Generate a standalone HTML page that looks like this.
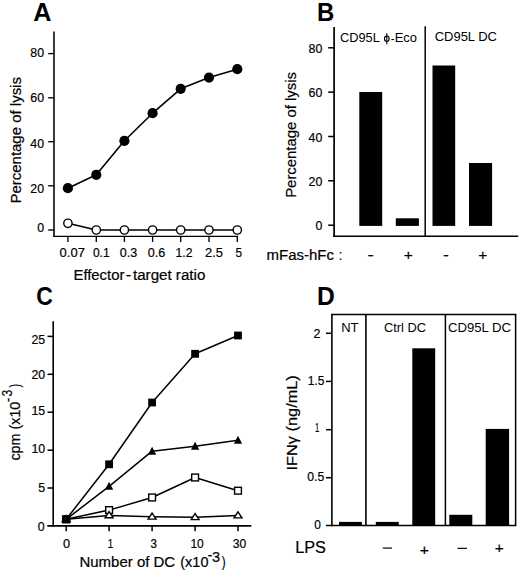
<!DOCTYPE html>
<html><head><meta charset="utf-8"><style>
html,body{margin:0;padding:0;background:#fff;}
svg{display:block;}
text{font-family:"Liberation Sans", sans-serif;fill:#000;}
</style></head><body>
<svg width="520" height="572" viewBox="0 0 520 572">
<rect width="520" height="572" fill="#fff"/>
<text x="33.37" y="21.15" font-size="25.0" textLength="18.19" lengthAdjust="spacingAndGlyphs" font-weight="bold">A</text>
<line x1="54.00" y1="31.40" x2="54.00" y2="237.05" stroke="#000" stroke-width="1.55"/>
<line x1="53.25" y1="236.35" x2="238.20" y2="236.35" stroke="#000" stroke-width="1.4"/>
<line x1="48.20" y1="53.60" x2="54.00" y2="53.60" stroke="#000" stroke-width="1.35"/>
<text x="30.35" y="56.93" font-size="12.6" textLength="13.73" lengthAdjust="spacingAndGlyphs" stroke="#000" stroke-width="0.2">80</text>
<line x1="48.20" y1="97.80" x2="54.00" y2="97.80" stroke="#000" stroke-width="1.35"/>
<text x="30.35" y="101.93" font-size="12.6" textLength="13.73" lengthAdjust="spacingAndGlyphs" stroke="#000" stroke-width="0.2">60</text>
<line x1="48.20" y1="141.70" x2="54.00" y2="141.70" stroke="#000" stroke-width="1.35"/>
<text x="30.35" y="147.53" font-size="12.6" textLength="13.73" lengthAdjust="spacingAndGlyphs" stroke="#000" stroke-width="0.2">40</text>
<line x1="48.20" y1="185.80" x2="54.00" y2="185.80" stroke="#000" stroke-width="1.35"/>
<text x="30.35" y="192.53" font-size="12.6" textLength="13.73" lengthAdjust="spacingAndGlyphs" stroke="#000" stroke-width="0.2">20</text>
<line x1="48.20" y1="230.00" x2="54.00" y2="230.00" stroke="#000" stroke-width="1.35"/>
<text x="37.21" y="232.23" font-size="12.6" textLength="6.87" lengthAdjust="spacingAndGlyphs" stroke="#000" stroke-width="0.2">0</text>
<line x1="67.90" y1="236.35" x2="67.90" y2="241.90" stroke="#000" stroke-width="1.35"/>
<line x1="96.30" y1="236.35" x2="96.30" y2="241.90" stroke="#000" stroke-width="1.35"/>
<line x1="124.40" y1="236.35" x2="124.40" y2="241.90" stroke="#000" stroke-width="1.35"/>
<line x1="152.60" y1="236.35" x2="152.60" y2="241.90" stroke="#000" stroke-width="1.35"/>
<line x1="180.70" y1="236.35" x2="180.70" y2="241.90" stroke="#000" stroke-width="1.35"/>
<line x1="209.00" y1="236.35" x2="209.00" y2="241.90" stroke="#000" stroke-width="1.35"/>
<line x1="237.30" y1="236.35" x2="237.30" y2="241.90" stroke="#000" stroke-width="1.35"/>
<text x="59.64" y="256.83" font-size="12.6" textLength="25.21" lengthAdjust="spacingAndGlyphs" stroke="#000" stroke-width="0.2">0.07</text>
<text x="92.93" y="256.83" font-size="12.6" textLength="16.76" lengthAdjust="spacingAndGlyphs" stroke="#000" stroke-width="0.2">0.1</text>
<text x="119.71" y="256.83" font-size="12.6" textLength="17.44" lengthAdjust="spacingAndGlyphs" stroke="#000" stroke-width="0.2">0.3</text>
<text x="147.71" y="256.83" font-size="12.6" textLength="17.44" lengthAdjust="spacingAndGlyphs" stroke="#000" stroke-width="0.2">0.6</text>
<text x="175.58" y="256.95" font-size="12.6" textLength="16.83" lengthAdjust="spacingAndGlyphs" stroke="#000" stroke-width="0.2">1.2</text>
<text x="205.05" y="256.83" font-size="12.6" textLength="17.89" lengthAdjust="spacingAndGlyphs" stroke="#000" stroke-width="0.2">2.5</text>
<text x="235.53" y="256.83" font-size="12.6" textLength="6.57" lengthAdjust="spacingAndGlyphs" stroke="#000" stroke-width="0.2">5</text>
<text x="73.49" y="279.70" font-size="14.0" textLength="50.86" lengthAdjust="spacingAndGlyphs" stroke="#000" stroke-width="0.2">Effector</text>
<text x="125.65" y="279.82" font-size="14.0" textLength="5.59" lengthAdjust="spacingAndGlyphs" stroke="#000" stroke-width="0.2">-</text>
<text x="132.97" y="279.70" font-size="14.0" textLength="72.36" lengthAdjust="spacingAndGlyphs" stroke="#000" stroke-width="0.2">target ratio</text>
<text x="20.60" y="203.53" font-size="14.6" textLength="126.47" lengthAdjust="spacingAndGlyphs" transform="rotate(-90 20.60 203.53)" stroke="#000" stroke-width="0.2">Percentage of lysis</text>
<polyline points="67.90,188.20 96.30,174.80 124.40,140.80 152.60,113.20 180.70,88.80 209.00,77.60 237.30,69.20" fill="none" stroke="#000" stroke-width="1.6" stroke-linejoin="round"/>
<polyline points="67.90,223.30 96.30,230.00 124.40,230.00 152.60,230.00 180.70,230.00 209.00,230.00 237.30,230.00" fill="none" stroke="#000" stroke-width="1.6" stroke-linejoin="round"/>
<circle cx="67.90" cy="188.20" r="5.1" fill="#000"/>
<circle cx="96.30" cy="174.80" r="5.1" fill="#000"/>
<circle cx="124.40" cy="140.80" r="5.1" fill="#000"/>
<circle cx="152.60" cy="113.20" r="5.1" fill="#000"/>
<circle cx="180.70" cy="88.80" r="5.1" fill="#000"/>
<circle cx="209.00" cy="77.60" r="5.1" fill="#000"/>
<circle cx="237.30" cy="69.20" r="5.1" fill="#000"/>
<circle cx="67.90" cy="223.30" r="4.15" fill="#fff" stroke="#000" stroke-width="1.4"/>
<circle cx="96.30" cy="230.00" r="4.15" fill="#fff" stroke="#000" stroke-width="1.4"/>
<circle cx="124.40" cy="230.00" r="4.15" fill="#fff" stroke="#000" stroke-width="1.4"/>
<circle cx="152.60" cy="230.00" r="4.15" fill="#fff" stroke="#000" stroke-width="1.4"/>
<circle cx="180.70" cy="230.00" r="4.15" fill="#fff" stroke="#000" stroke-width="1.4"/>
<circle cx="209.00" cy="230.00" r="4.15" fill="#fff" stroke="#000" stroke-width="1.4"/>
<circle cx="237.30" cy="230.00" r="4.15" fill="#fff" stroke="#000" stroke-width="1.4"/>
<text x="317.00" y="21.15" font-size="25.0" textLength="17.29" lengthAdjust="spacingAndGlyphs" font-weight="bold">B</text>
<line x1="334.10" y1="27.00" x2="334.10" y2="237.10" stroke="#000" stroke-width="1.7"/>
<line x1="333.30" y1="236.30" x2="518.20" y2="236.30" stroke="#000" stroke-width="1.6"/>
<line x1="328.20" y1="47.80" x2="334.10" y2="47.80" stroke="#000" stroke-width="1.5"/>
<text x="308.55" y="52.83" font-size="12.6" textLength="13.73" lengthAdjust="spacingAndGlyphs" stroke="#000" stroke-width="0.2">80</text>
<line x1="328.20" y1="92.15" x2="334.10" y2="92.15" stroke="#000" stroke-width="1.5"/>
<text x="308.55" y="97.23" font-size="12.6" textLength="13.73" lengthAdjust="spacingAndGlyphs" stroke="#000" stroke-width="0.2">60</text>
<line x1="328.20" y1="136.50" x2="334.10" y2="136.50" stroke="#000" stroke-width="1.5"/>
<text x="308.55" y="141.53" font-size="12.6" textLength="13.73" lengthAdjust="spacingAndGlyphs" stroke="#000" stroke-width="0.2">40</text>
<line x1="328.20" y1="180.80" x2="334.10" y2="180.80" stroke="#000" stroke-width="1.5"/>
<text x="308.55" y="186.03" font-size="12.6" textLength="13.73" lengthAdjust="spacingAndGlyphs" stroke="#000" stroke-width="0.2">20</text>
<line x1="328.20" y1="225.20" x2="334.10" y2="225.20" stroke="#000" stroke-width="1.5"/>
<text x="315.41" y="230.03" font-size="12.6" textLength="6.87" lengthAdjust="spacingAndGlyphs" stroke="#000" stroke-width="0.2">0</text>
<line x1="425.20" y1="26.30" x2="425.20" y2="236.30" stroke="#000" stroke-width="1.5"/>
<rect x="359.30" y="92.00" width="22.90" height="133.90" fill="#000"/>
<rect x="395.80" y="218.30" width="23.10" height="7.60" fill="#000"/>
<rect x="432.50" y="65.50" width="22.70" height="160.40" fill="#000"/>
<rect x="469.00" y="163.00" width="23.10" height="62.90" fill="#000"/>
<text x="339.95" y="41.72" font-size="13.3" textLength="39.88" lengthAdjust="spacingAndGlyphs">CD95L</text>
<ellipse cx="386.8" cy="38.8" rx="2.35" ry="2.65" fill="none" stroke="#000" stroke-width="1.1"/>
<line x1="386.80" y1="33.20" x2="386.80" y2="44.20" stroke="#000" stroke-width="1.1"/>
<text x="390.69" y="42.66" font-size="13.3" textLength="3.82" lengthAdjust="spacingAndGlyphs">-</text>
<text x="394.64" y="41.82" font-size="13.3" textLength="22.31" lengthAdjust="spacingAndGlyphs">Eco</text>
<text x="434.65" y="41.12" font-size="13.3" textLength="62.35" lengthAdjust="spacingAndGlyphs">CD95L DC</text>
<text x="296.40" y="197.82" font-size="14.6" textLength="125.86" lengthAdjust="spacingAndGlyphs" transform="rotate(-90 296.40 197.82)" stroke="#000" stroke-width="0.2">Percentage of lysis</text>
<text x="266.61" y="260.11" font-size="14.0" textLength="67.29" lengthAdjust="spacingAndGlyphs" stroke="#000" stroke-width="0.2">mFas-hFc</text>
<text x="338.75" y="260.25" font-size="14.0" textLength="3.50" lengthAdjust="spacingAndGlyphs" stroke="#000" stroke-width="0.2">:</text>
<text x="367.46" y="260.02" font-size="14.0" textLength="6.27" lengthAdjust="spacingAndGlyphs" stroke="#000" stroke-width="0.2">-</text>
<text x="443.02" y="260.02" font-size="14.0" textLength="5.87" lengthAdjust="spacingAndGlyphs" stroke="#000" stroke-width="0.2">-</text>
<text x="403.74" y="260.38" font-size="14.0" textLength="9.14" lengthAdjust="spacingAndGlyphs" stroke="#000" stroke-width="0.2">+</text>
<text x="478.15" y="260.38" font-size="14.0" textLength="9.02" lengthAdjust="spacingAndGlyphs" stroke="#000" stroke-width="0.2">+</text>
<text x="36.36" y="305.31" font-size="25.0" textLength="16.57" lengthAdjust="spacingAndGlyphs" font-weight="bold">C</text>
<line x1="53.20" y1="321.20" x2="53.20" y2="526.70" stroke="#000" stroke-width="1.6"/>
<line x1="47.30" y1="525.90" x2="251.30" y2="525.90" stroke="#000" stroke-width="1.6"/>
<line x1="47.50" y1="336.40" x2="53.20" y2="336.40" stroke="#000" stroke-width="1.5"/>
<line x1="47.50" y1="374.30" x2="53.20" y2="374.30" stroke="#000" stroke-width="1.5"/>
<line x1="47.50" y1="412.20" x2="53.20" y2="412.20" stroke="#000" stroke-width="1.5"/>
<line x1="47.50" y1="450.20" x2="53.20" y2="450.20" stroke="#000" stroke-width="1.5"/>
<line x1="47.50" y1="488.00" x2="53.20" y2="488.00" stroke="#000" stroke-width="1.5"/>
<text x="31.48" y="344.43" font-size="12.6" textLength="13.73" lengthAdjust="spacingAndGlyphs" stroke="#000" stroke-width="0.2">25</text>
<text x="31.45" y="379.33" font-size="12.6" textLength="13.73" lengthAdjust="spacingAndGlyphs" stroke="#000" stroke-width="0.2">20</text>
<text x="31.48" y="415.03" font-size="12.6" textLength="13.73" lengthAdjust="spacingAndGlyphs" stroke="#000" stroke-width="0.2">15</text>
<text x="31.45" y="453.03" font-size="12.6" textLength="13.73" lengthAdjust="spacingAndGlyphs" stroke="#000" stroke-width="0.2">10</text>
<text x="38.35" y="492.03" font-size="12.6" textLength="6.87" lengthAdjust="spacingAndGlyphs" stroke="#000" stroke-width="0.2">5</text>
<text x="37.81" y="531.43" font-size="12.6" textLength="6.87" lengthAdjust="spacingAndGlyphs" stroke="#000" stroke-width="0.2">0</text>
<line x1="66.20" y1="525.90" x2="66.20" y2="531.30" stroke="#000" stroke-width="1.5"/>
<line x1="109.10" y1="525.90" x2="109.10" y2="531.30" stroke="#000" stroke-width="1.5"/>
<line x1="152.10" y1="525.90" x2="152.10" y2="531.30" stroke="#000" stroke-width="1.5"/>
<line x1="195.10" y1="525.90" x2="195.10" y2="531.30" stroke="#000" stroke-width="1.5"/>
<line x1="238.00" y1="525.90" x2="238.00" y2="531.30" stroke="#000" stroke-width="1.5"/>
<text x="63.00" y="548.23" font-size="12.6" textLength="7.10" lengthAdjust="spacingAndGlyphs" stroke="#000" stroke-width="0.2">0</text>
<text x="107.76" y="548.35" font-size="12.6" textLength="5.42" lengthAdjust="spacingAndGlyphs" stroke="#000" stroke-width="0.2">1</text>
<text x="150.56" y="548.23" font-size="12.6" textLength="6.45" lengthAdjust="spacingAndGlyphs" stroke="#000" stroke-width="0.2">3</text>
<text x="190.39" y="548.23" font-size="12.6" textLength="13.28" lengthAdjust="spacingAndGlyphs" stroke="#000" stroke-width="0.2">10</text>
<text x="232.84" y="548.23" font-size="12.6" textLength="13.49" lengthAdjust="spacingAndGlyphs" stroke="#000" stroke-width="0.2">30</text>
<text x="79.47" y="567.40" font-size="14.6" textLength="95.70" lengthAdjust="spacingAndGlyphs" stroke="#000" stroke-width="0.2">Number of DC</text>
<text x="180.30" y="567.40" font-size="14.6" textLength="28.16" lengthAdjust="spacingAndGlyphs" stroke="#000" stroke-width="0.2">(x10</text>
<text x="207.64" y="560.46" font-size="14.6" textLength="4.91" lengthAdjust="spacingAndGlyphs" stroke="#000" stroke-width="0.2">-</text>
<text x="212.05" y="561.51" font-size="14.6" textLength="8.09" lengthAdjust="spacingAndGlyphs" stroke="#000" stroke-width="0.2">3</text>
<text x="221.63" y="567.40" font-size="14.6" textLength="3.89" lengthAdjust="spacingAndGlyphs" stroke="#000" stroke-width="0.2">)</text>
<text x="19.90" y="460.61" font-size="14.6" textLength="58.97" lengthAdjust="spacingAndGlyphs" transform="rotate(-90 19.90 460.61)" stroke="#000" stroke-width="0.2">cpm (x10</text>
<text x="12.90" y="401.88" font-size="14.6" textLength="4.36" lengthAdjust="spacingAndGlyphs" transform="rotate(-90 12.90 401.88)" stroke="#000" stroke-width="0.2">-</text>
<text x="12.50" y="396.57" font-size="14.6" textLength="6.80" lengthAdjust="spacingAndGlyphs" transform="rotate(-90 12.50 396.57)" stroke="#000" stroke-width="0.2">3</text>
<text x="19.90" y="387.56" font-size="14.6" textLength="3.64" lengthAdjust="spacingAndGlyphs" transform="rotate(-90 19.90 387.56)" stroke="#000" stroke-width="0.2">)</text>
<polyline points="66.20,519.30 109.10,464.30 152.10,402.50 195.10,353.80 238.00,335.50" fill="none" stroke="#000" stroke-width="1.5" stroke-linejoin="round"/>
<polyline points="66.20,519.30 109.10,486.30 152.10,451.20 195.10,446.20 238.00,440.30" fill="none" stroke="#000" stroke-width="1.5" stroke-linejoin="round"/>
<polyline points="66.20,519.30 109.10,510.10 152.10,497.50 195.10,477.50 238.00,490.70" fill="none" stroke="#000" stroke-width="1.5" stroke-linejoin="round"/>
<polyline points="66.20,519.30 109.10,515.40 152.10,516.80 195.10,517.30 238.00,515.60" fill="none" stroke="#000" stroke-width="1.5" stroke-linejoin="round"/>
<rect x="62.80" y="515.90" width="6.80" height="6.80" fill="#fff" stroke="#000" stroke-width="1.4"/>
<rect x="105.70" y="506.70" width="6.80" height="6.80" fill="#fff" stroke="#000" stroke-width="1.4"/>
<rect x="148.70" y="494.10" width="6.80" height="6.80" fill="#fff" stroke="#000" stroke-width="1.4"/>
<rect x="191.70" y="474.10" width="6.80" height="6.80" fill="#fff" stroke="#000" stroke-width="1.4"/>
<rect x="234.60" y="487.30" width="6.80" height="6.80" fill="#fff" stroke="#000" stroke-width="1.4"/>
<polygon points="66.20,515.54 70.17,521.60 62.23,521.60" fill="#fff" stroke="#000" stroke-width="1.4" stroke-linejoin="miter"/>
<polygon points="109.10,511.64 113.07,517.70 105.13,517.70" fill="#fff" stroke="#000" stroke-width="1.4" stroke-linejoin="miter"/>
<polygon points="152.10,513.04 156.07,519.10 148.13,519.10" fill="#fff" stroke="#000" stroke-width="1.4" stroke-linejoin="miter"/>
<polygon points="195.10,513.54 199.07,519.60 191.13,519.60" fill="#fff" stroke="#000" stroke-width="1.4" stroke-linejoin="miter"/>
<polygon points="238.00,511.84 241.97,517.90 234.03,517.90" fill="#fff" stroke="#000" stroke-width="1.4" stroke-linejoin="miter"/>
<polygon points="66.20,514.80 70.30,522.80 62.10,522.80" fill="#000"/>
<polygon points="109.10,481.80 113.20,489.80 105.00,489.80" fill="#000"/>
<polygon points="152.10,446.70 156.20,454.70 148.00,454.70" fill="#000"/>
<polygon points="195.10,441.70 199.20,449.70 191.00,449.70" fill="#000"/>
<polygon points="238.00,435.80 242.10,443.80 233.90,443.80" fill="#000"/>
<rect x="62.30" y="515.40" width="7.8" height="7.8" fill="#000"/>
<rect x="105.20" y="460.40" width="7.8" height="7.8" fill="#000"/>
<rect x="148.20" y="398.60" width="7.8" height="7.8" fill="#000"/>
<rect x="191.20" y="349.90" width="7.8" height="7.8" fill="#000"/>
<rect x="234.10" y="331.60" width="7.8" height="7.8" fill="#000"/>
<text x="316.95" y="305.15" font-size="25.0" textLength="17.78" lengthAdjust="spacingAndGlyphs" font-weight="bold">D</text>
<line x1="331.90" y1="314.50" x2="331.90" y2="526.20" stroke="#000" stroke-width="1.6"/>
<line x1="331.10" y1="314.50" x2="516.35" y2="314.50" stroke="#000" stroke-width="1.5"/>
<line x1="515.60" y1="314.50" x2="515.60" y2="525.40" stroke="#000" stroke-width="1.5"/>
<line x1="326.00" y1="525.40" x2="516.35" y2="525.40" stroke="#000" stroke-width="1.5"/>
<line x1="365.90" y1="314.50" x2="365.90" y2="525.40" stroke="#000" stroke-width="1.6"/>
<line x1="445.40" y1="314.50" x2="445.40" y2="525.40" stroke="#000" stroke-width="1.5"/>
<line x1="326.00" y1="333.30" x2="331.90" y2="333.30" stroke="#000" stroke-width="1.5"/>
<line x1="326.00" y1="381.40" x2="331.90" y2="381.40" stroke="#000" stroke-width="1.5"/>
<line x1="326.00" y1="429.70" x2="331.90" y2="429.70" stroke="#000" stroke-width="1.5"/>
<line x1="326.00" y1="477.70" x2="331.90" y2="477.70" stroke="#000" stroke-width="1.5"/>
<text x="313.57" y="338.25" font-size="12.6" textLength="6.96" lengthAdjust="spacingAndGlyphs" stroke="#000" stroke-width="0.2">2</text>
<text x="307.69" y="384.73" font-size="12.6" textLength="16.61" lengthAdjust="spacingAndGlyphs" stroke="#000" stroke-width="0.2">1.5</text>
<text x="314.92" y="432.25" font-size="12.6" textLength="4.26" lengthAdjust="spacingAndGlyphs" stroke="#000" stroke-width="0.2">1</text>
<text x="307.32" y="481.03" font-size="12.6" textLength="16.99" lengthAdjust="spacingAndGlyphs" stroke="#000" stroke-width="0.2">0.5</text>
<text x="314.23" y="528.83" font-size="12.6" textLength="6.63" lengthAdjust="spacingAndGlyphs" stroke="#000" stroke-width="0.2">0</text>
<rect x="339.00" y="521.90" width="22.90" height="3.70" fill="#000"/>
<rect x="375.80" y="521.90" width="22.90" height="3.70" fill="#000"/>
<rect x="412.30" y="348.30" width="22.90" height="177.30" fill="#000"/>
<rect x="449.30" y="514.80" width="23.00" height="10.80" fill="#000"/>
<rect x="485.70" y="428.90" width="23.40" height="96.70" fill="#000"/>
<text x="341.23" y="331.95" font-size="13.3" textLength="17.37" lengthAdjust="spacingAndGlyphs">NT</text>
<text x="383.95" y="331.82" font-size="13.3" textLength="42.14" lengthAdjust="spacingAndGlyphs">Ctrl DC</text>
<text x="448.04" y="332.12" font-size="13.3" textLength="62.96" lengthAdjust="spacingAndGlyphs">CD95L DC</text>
<text x="296.80" y="470.51" font-size="14.6" textLength="95.32" lengthAdjust="spacingAndGlyphs" transform="rotate(-90 296.80 470.51)" stroke="#000" stroke-width="0.2">IFNγ (ng/mL)</text>
<text x="295.27" y="552.59" font-size="16.0" textLength="30.68" lengthAdjust="spacingAndGlyphs" stroke="#000" stroke-width="0.2">LPS</text>
<rect x="382.80" y="547.45" width="9.20" height="1.25" fill="#111"/>
<rect x="457.50" y="547.75" width="9.50" height="1.25" fill="#111"/>
<text x="419.83" y="554.82" font-size="14.5" textLength="9.26" lengthAdjust="spacingAndGlyphs" stroke="#000" stroke-width="0.2">+</text>
<text x="494.65" y="552.52" font-size="14.5" textLength="9.02" lengthAdjust="spacingAndGlyphs" stroke="#000" stroke-width="0.2">+</text>
</svg>
</body></html>
